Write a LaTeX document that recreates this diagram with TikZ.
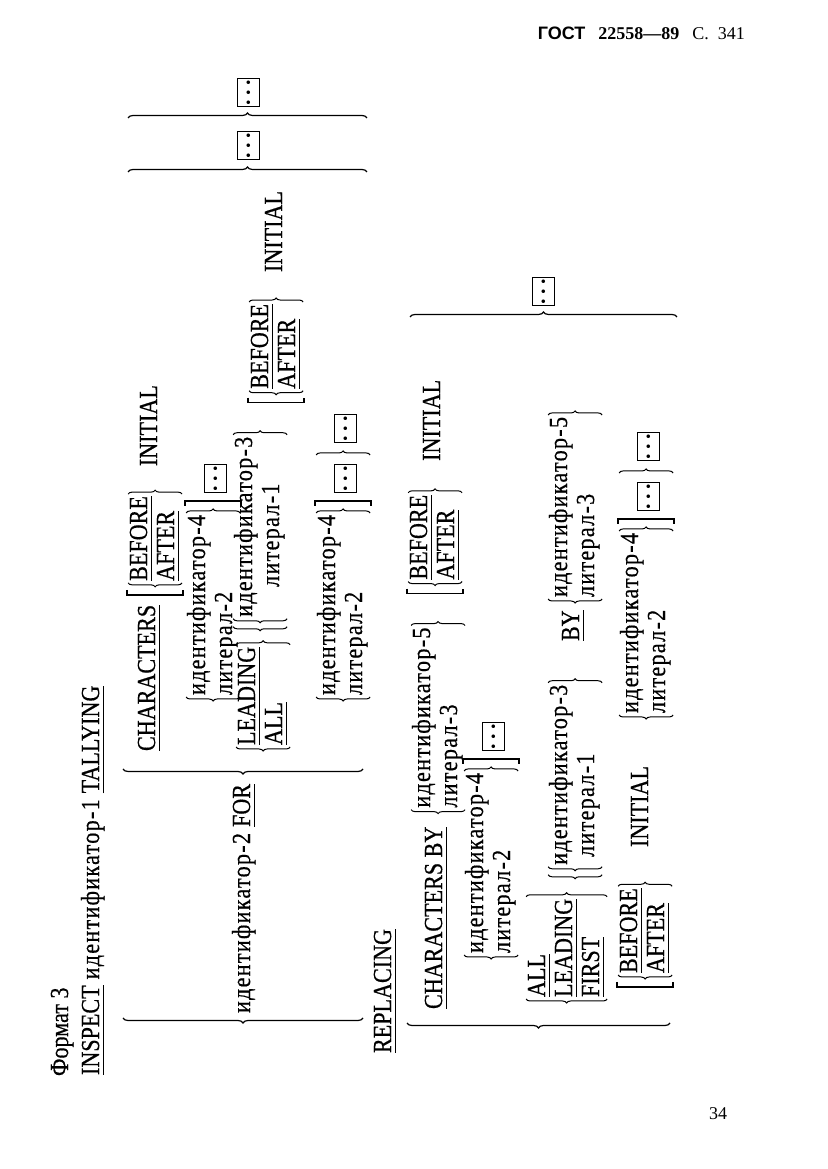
\documentclass[tikz,border=0pt]{standalone}
\usepackage{fontspec}
\setmainfont{Liberation Serif}
\setsansfont{Liberation Sans}
\newfontfamily\kwfont[FakeStretch=0.85, FakeBold=0.5]{Liberation Serif}
\newfontfamily\idfont[FakeStretch=0.85, FakeBold=0.5, LetterSpace=5]{Liberation Serif}
\usetikzlibrary{positioning, calc, decorations.pathreplacing}

\newcommand\ul[1]{\leavevmode\sbox0{#1}\rlap{\rule[-5pt]{\wd0}{1.2pt}}\usebox0}
\newcommand\dotrow{.\hspace{4.5pt}.\hspace{4.5pt}.}
\newcommand\alt[2]{\begin{tabular}[t]{@{}l@{}}#1\\#2\end{tabular}}
\newcommand\altt[3]{\begin{tabular}[t]{@{}l@{}}#1\\#2\\#3\end{tabular}}
% braces round a stacked group
\newcommand\bracepair[1]{%
  \draw[brc] (#1.south west) -- (#1.north west);
  \draw[brc] (#1.north east) -- (#1.south east);}
% square brackets before / after a group
\newcommand\lbrk[1]{\draw[brk] ($(#1.north west)+(-9,1)$) -- ($(#1.north west)+(-14,1)$) -- ($(#1.south west)+(-14,-1)$) -- ($(#1.south west)+(-9,-1)$);}
\newcommand\rbrk[1]{\draw[brk] ($(#1.north east)+(9,1)$) -- ($(#1.north east)+(14,1)$) -- ($(#1.south east)+(14,-1)$) -- ($(#1.south east)+(9,-1)$);}

\tikzset{
  txt/.style={inner sep=0pt, outer sep=0pt, anchor=base west, font=\fontsize{26}{27}\selectfont\kwfont},
  kw/.style={txt},
  idn/.style={txt, font=\fontsize{26}{27}\selectfont\idfont},
  brc/.style={decorate, decoration={brace, amplitude=4pt, raise=2pt}, line width=1pt},
  obrc/.style={decorate, decoration={brace, amplitude=4pt, raise=10pt}, line width=1pt},
  bigbrc/.style={decorate, decoration={brace, amplitude=5pt}, line width=1.2pt},
  brk/.style={line width=1.5pt},
  ellbox/.style={draw, line width=1.3pt, minimum width=28pt, minimum height=22pt, inner sep=0pt, anchor=south west, font=\fontsize{22}{22}\selectfont\bfseries},
}

\begin{document}
\begin{tikzpicture}[x=1pt, y=1pt]
\path[fill=white] (0,0) rectangle (827,1169);
\useasboundingbox (0,0) rectangle (827,1169);

% running head and page number
\node[anchor=base east, inner sep=0pt, font=\fontsize{18}{20}\selectfont] (head) at (745,1129)
  {{\sffamily\bfseries ГОСТ}\hspace{13pt}{\bfseries 22558---89}\hspace{13pt}С.\hspace{9pt}341};
\node[anchor=base west, inner sep=0pt, font=\fontsize{18}{20}\selectfont] (pnum) at (709,49) {34};

\begin{scope}[rotate=90, transform shape]
% heading line
\node[kw] (fmt) at (93,-68) {Формат 3};
\node[kw] (insp) at (94,-99) {\ul{INSPECT}};
\node[idn, base right=6pt of insp] (id1) {идентификатор-1};
\node[kw, base right=6pt of id1] (tally) {\ul{TALLYING}};

% TALLYING group
\draw[bigbrc] (151,-363) -- (151,-123);
\node[idn] (id2) at (156,-250) {идентификатор-2};
\node[kw, base right=6pt of id2] (for) {\ul{FOR}};
\draw[bigbrc] (400,-363) -- (400,-123);

% CHARACTERS line
\node[kw] (ch1) at (418,-155) {\ul{CHARACTERS}};
\node[kw] (ba1) at ($(ch1.base east)+(24,8)$) {\alt{\ul{BEFORE}}{\ul{AFTER}}};
\bracepair{ba1}
\lbrk{ba1}
\node[kw] (in1) at ($(ba1.base east)+(30,-10)$) {INITIAL};
\node[idn] (il1) at (474,-205) {\alt{идентификатор-4}{литерал-2}};
\bracepair{il1}
\rbrk{il1}
\node[ellbox] (e1) at ($(il1.base east)+(22,-22)$) {\dotrow};

% LEADING / ALL line
\node[kw] (la1) at (424,-255) {\alt{\ul{LEADING}}{\ul{ALL}}};
\bracepair{la1}
\node[idn] (il3) at ($(la1.base east)+(30,3)$) {\alt{идентификатор-3}{\hspace*{30pt}литерал-1}};
\bracepair{il3}
\draw[obrc] (il3.south west) -- (il3.north west);
\node[kw] (ba2) at ($(il3.base east)+(48,-16)$) {\alt{\ul{BEFORE}}{\ul{AFTER}}};
\bracepair{ba2}
\lbrk{ba2}
\node[kw] (in2) at ($(ba2.base east)+(32,-14)$) {INITIAL};
\node[idn] (il2) at (474,-335) {\alt{идентификатор-4}{литерал-2}};
\bracepair{il2}
\rbrk{il2}
\node[ellbox] (e2) at ($(il2.base east)+(22,-22)$) {\dotrow};
\draw[brc] ($(il2.north east)+(58,0)$) -- ($(il2.south east)+(58,0)$);
\node[ellbox] (e3) at ($(il2.base east)+(72,-22)$) {\dotrow};

% closing braces of TALLYING
\draw[bigbrc] (997,-128) -- (997,-367);
\node[ellbox] (e4) at (1009,-260) {\dotrow};
\draw[bigbrc] (1051,-128) -- (1051,-367);
\node[ellbox] (e5) at (1062,-260) {\dotrow};

% REPLACING
\node[kw] (repl) at (116,-391) {\ul{REPLACING}};
\draw[bigbrc] (146,-670) -- (146,-407);

% CHARACTERS BY line
\node[kw] (ch2) at (160,-442) {\ul{CHARACTERS BY}};
\node[idn] (il5) at ($(ch2.base east)+(19,12)$) {\alt{идентификатор-5}{литерал-3}};
\bracepair{il5}
\node[kw] (ba3) at ($(il5.base east)+(48,3)$) {\alt{\ul{BEFORE}}{\ul{AFTER}}};
\bracepair{ba3}
\lbrk{ba3}
\node[kw] (in3) at ($(ba3.base east)+(34,-13)$) {INITIAL};
\node[idn] (il4) at (216,-483) {\alt{идентификатор-4}{литерал-2}};
\bracepair{il4}
\rbrk{il4}
\node[ellbox] (e6) at ($(il4.base east)+(22,-22)$) {\dotrow};

% ALL / LEADING / FIRST line
\node[kw] (la2) at (172,-545) {\altt{\ul{ALL}}{\ul{LEADING}}{\ul{FIRST}}};
\bracepair{la2}
\node[idn] (il6) at ($(la2.base east)+(34,-22)$) {\alt{идентификатор-3}{\hspace*{8pt}литерал-1}};
\bracepair{il6}
\draw[obrc] (il6.south west) -- (il6.north west);
\node[kw] (by2) at (528,-579) {\ul{BY}};
\node[idn] (il7) at (572,-567) {\alt{идентификатор-5}{литерал-3}};
\bracepair{il7}
\node[kw] (ba4) at (196,-637) {\alt{\ul{BEFORE}}{\ul{AFTER}}};
\bracepair{ba4}
\lbrk{ba4}
\node[kw] (in4) at (322,-648) {INITIAL};
\node[idn] (il8) at (456,-638) {\alt{идентификатор-4}{литерал-2}};
\bracepair{il8}
\rbrk{il8}
\node[ellbox] (e7) at ($(il8.base east)+(22,-22)$) {\dotrow};
\draw[brc] ($(il8.north east)+(58,0)$) -- ($(il8.south east)+(58,0)$);
\node[ellbox] (e8) at ($(il8.base east)+(72,-22)$) {\dotrow};

% closing brace of REPLACING
\draw[bigbrc] (852,-410) -- (852,-677);
\node[ellbox] (e9) at (863,-555) {\dotrow};
\end{scope}
\end{tikzpicture}
\end{document}
